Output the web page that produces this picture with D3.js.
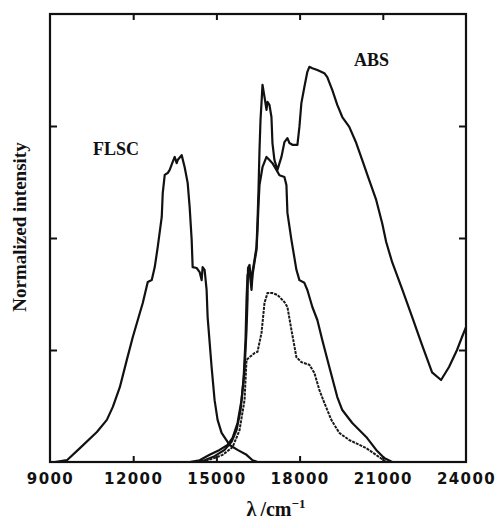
<!DOCTYPE html>
<html>
<head>
<meta charset="utf-8">
<script src="https://cdn.jsdelivr.net/npm/d3@7"></script>
<style>
  body { margin: 0; background: #fff; }
  .tick-label text { font-family: "DejaVu Sans", sans-serif; font-weight: bold; font-size: 15px; letter-spacing: 1.4px; fill: #111; }
  .serif { font-family: "Liberation Serif", "Times New Roman", serif; font-weight: bold; fill: #111; }
</style>
</head>
<body>
<div id="chart"></div>
<script>
'use strict';

// wavenumber ticks (cm^-1) and the three inner intensity ticks
const xTicks = [9000, 12000, 15000, 18000, 21000, 24000];
const yTicks = [0.25, 0.5, 0.75];

// [wavenumber, normalized intensity]
const flsc = [
  [9180, 0], [9611, 0.004], [10079, 0.031], [10691, 0.067], [11050, 0.094], [11266, 0.123],
  [11518, 0.167], [11770, 0.228], [11986, 0.279], [12165, 0.317], [12345, 0.355], [12525, 0.402],
  [12669, 0.406], [12777, 0.435], [12885, 0.48], [13029, 0.547], [13065, 0.6], [13137, 0.641],
  [13244, 0.645], [13316, 0.652], [13424, 0.67], [13496, 0.681], [13568, 0.667], [13604, 0.674],
  [13748, 0.685], [13856, 0.658], [13964, 0.623], [14036, 0.569], [14108, 0.496], [14144, 0.435],
  [14288, 0.433], [14396, 0.424], [14467, 0.406], [14503, 0.435], [14575, 0.429], [14647, 0.384],
  [14683, 0.324], [14827, 0.212], [14935, 0.138], [15043, 0.094], [15187, 0.065], [15475, 0.038],
  [15762, 0.027], [16086, 0.016], [16302, 0.004], [16482, 0]
];

const abs = [
  [14036, 0], [14396, 0.004], [14755, 0.016], [15115, 0.027], [15403, 0.038], [15583, 0.054],
  [15762, 0.087], [15906, 0.138], [16014, 0.205], [16086, 0.295], [16122, 0.362], [16140, 0.433],
  [16194, 0.44], [16266, 0.395], [16302, 0.424], [16374, 0.451], [16446, 0.48], [16482, 0.536],
  [16518, 0.607], [16554, 0.696], [16590, 0.763], [16626, 0.801], [16662, 0.842], [16734, 0.815],
  [16806, 0.786], [16842, 0.804], [16913, 0.797], [16985, 0.77], [17021, 0.712], [17093, 0.674],
  [17201, 0.652], [17345, 0.681], [17453, 0.714], [17561, 0.723], [17633, 0.712], [17741, 0.708],
  [17921, 0.708], [17993, 0.748], [18064, 0.801], [18172, 0.837], [18280, 0.871], [18352, 0.882],
  [18460, 0.879], [18640, 0.875], [18892, 0.868], [18998, 0.859], [19180, 0.83], [19359, 0.797],
  [19539, 0.77], [19791, 0.748], [20043, 0.712], [20259, 0.674], [20510, 0.629], [20762, 0.585],
  [20978, 0.533], [21122, 0.491], [21338, 0.446], [21698, 0.386], [22057, 0.324], [22417, 0.261],
  [22777, 0.2], [23100, 0.183], [23388, 0.212], [23676, 0.25], [23856, 0.279], [24000, 0.301]
];

const flscSolid2 = [
  [14216, 0], [14575, 0.004], [14935, 0.013], [15295, 0.027], [15547, 0.045], [15726, 0.071],
  [15870, 0.116], [15978, 0.183], [16050, 0.272], [16086, 0.362], [16122, 0.417], [16194, 0.429],
  [16266, 0.384], [16302, 0.417], [16374, 0.446], [16446, 0.473], [16482, 0.518], [16518, 0.574],
  [16554, 0.618], [16662, 0.658], [16806, 0.681], [16913, 0.674], [17021, 0.667], [17165, 0.652],
  [17273, 0.64], [17453, 0.636], [17525, 0.618], [17561, 0.556], [17705, 0.496], [17885, 0.429],
  [17993, 0.406], [18172, 0.4], [18280, 0.384], [18460, 0.346], [18640, 0.317], [18820, 0.272],
  [19072, 0.212], [19359, 0.145], [19539, 0.116], [19899, 0.087], [20402, 0.056], [20762, 0.027],
  [21050, 0.009], [21338, 0]
];

const dashed = [
  [14324, 0], [14575, 0.002], [14935, 0.009], [15223, 0.016], [15583, 0.033], [15834, 0.071],
  [16014, 0.138], [16086, 0.228], [16194, 0.234], [16374, 0.243], [16482, 0.246], [16626, 0.288],
  [16734, 0.355], [16842, 0.377], [17021, 0.377], [17201, 0.373], [17453, 0.357], [17561, 0.346],
  [17705, 0.295], [17885, 0.234], [18064, 0.223], [18352, 0.217], [18532, 0.199], [18712, 0.161],
  [18892, 0.132], [19144, 0.094], [19431, 0.065], [19791, 0.049], [20402, 0.031], [20870, 0.011],
  [21122, 0]
];

const margin = {top: 14, right: 35, bottom: 66, left: 50};
const width = 501 - margin.left - margin.right;
const height = 528 - margin.top - margin.bottom;

const svg = d3.select('#chart')
    .append('svg')
    .attr('width', 501)
    .attr('height', 528);

const graph = svg.append('g')
    .attr('transform', `translate(${margin.left}, ${margin.top})`);

const x = d3.scaleLinear().domain([9000, 24000]).range([0, width]);
const y = d3.scaleLinear().domain([0, 1]).range([height, 0]);

// inward ticks on all four sides
graph.append('g')
    .attr('transform', `translate(0, ${height})`)
    .call(d3.axisBottom(x).tickValues(xTicks.slice(1, -1)).tickSize(-6).tickFormat(''))
    .call(g => g.select('.domain').remove());
graph.append('g')
    .call(d3.axisTop(x).tickValues(xTicks.slice(1, -1)).tickSize(-6).tickFormat(''))
    .call(g => g.select('.domain').remove());
graph.append('g')
    .call(d3.axisLeft(y).tickValues(yTicks).tickSize(-7).tickFormat(''))
    .call(g => g.select('.domain').remove());
graph.append('g')
    .attr('transform', `translate(${width}, 0)`)
    .call(d3.axisRight(y).tickValues(yTicks).tickSize(-7).tickFormat(''))
    .call(g => g.select('.domain').remove());

graph.selectAll('.tick line')
    .attr('stroke', '#111')
    .attr('stroke-width', 2);

graph.append('g')
    .attr('class', 'tick-label')
    .attr('transform', `translate(0, ${height})`)
    .call(d3.axisBottom(x).tickValues(xTicks).tickSize(0).tickPadding(11).tickFormat(d3.format('d')))
    .call(g => g.select('.domain').remove());

const line = d3.line()
    .x(d => x(d[0]))
    .y(d => y(d[1]));

[flsc, abs, flscSolid2].forEach(s => {
  graph.append('path')
      .datum(s)
      .attr('fill', 'none')
      .attr('stroke', '#111')
      .attr('stroke-width', 2.2)
      .attr('stroke-linejoin', 'round')
      .attr('d', line);
});

graph.append('path')
    .datum(dashed)
    .attr('fill', 'none')
    .attr('stroke', '#1a1a1a')
    .attr('stroke-width', 2)
    .attr('stroke-dasharray', '3,1')
    .attr('d', line);

graph.append('rect')
    .attr('width', width)
    .attr('height', height)
    .attr('fill', 'none')
    .attr('stroke', '#111')
    .attr('stroke-width', 2.2);

graph.append('text')
    .attr('class', 'serif')
    .attr('x', 43)
    .attr('y', 141)
    .style('font-size', '18px')
    .text('FLSC');

graph.append('text')
    .attr('class', 'serif')
    .attr('x', 304)
    .attr('y', 52)
    .style('font-size', '18px')
    .text('ABS');

svg.append('text')
    .attr('class', 'serif')
    .attr('transform', 'translate(26, 227) rotate(-90)')
    .attr('text-anchor', 'middle')
    .style('font-size', '19px')
    .text('Normalized intensity');

const xl = svg.append('text')
    .attr('class', 'serif')
    .attr('x', 276)
    .attr('y', 516)
    .attr('text-anchor', 'middle')
    .style('font-size', '20px');
xl.append('tspan').text('λ\u2009/cm');
xl.append('tspan').attr('dy', -8).style('font-size', '13px').text('−1');
</script>
</body>
</html>
